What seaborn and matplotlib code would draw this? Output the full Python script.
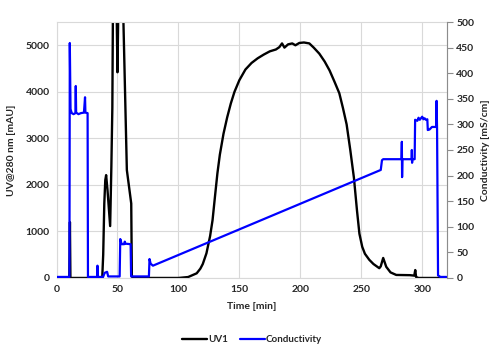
import seaborn as sns
import matplotlib.pyplot as plt
import pandas as pd

# UV trace (mAU)
uv_time = [0, 10.5, 11, 11.4, 37.5, 38.3, 39.2, 40, 40.7, 41.8, 44, 45, 45.8, 46.3,
           49.3, 50, 50.7, 54.5, 54.9, 57.7, 61.3, 61.8, 62.5, 100, 108, 115, 118,
           120, 123, 126, 128, 130, 132, 134, 137, 140, 143, 146, 150, 155, 160,
           165, 170, 175, 180, 182.8, 185, 187, 190, 193.4, 196, 199.2, 203, 207.4,
           211, 215.6, 220, 224, 228, 232, 235, 238, 241, 244, 246.5, 248.5, 250.8,
           253, 256.6, 260, 264.8, 266, 268, 270.5, 274, 278.7, 290, 293.5, 294.3,
           295, 297, 320]
uv_value = [0, 0, 1200, 0, 0, 500, 1600, 2100, 2210, 1900, 1115, 2400, 3660, 5800,
            5800, 4420, 5800, 5800, 5500, 2320, 1600, 50, 0, 0, 20, 100, 200,
            300, 530, 900, 1240, 1750, 2250, 2650, 3100, 3450, 3750, 4000, 4250, 4480, 4620,
            4720, 4800, 4870, 4910, 4960, 5040, 4950, 5020, 5040, 5000, 5050, 5060, 5040,
            4950, 4820, 4650, 4460, 4220, 3970, 3650, 3300, 2750, 2150, 1450, 950, 670,
            520, 390, 300, 210, 250, 430, 240, 120, 65, 60, 50, 170,
            20, 0, 0]

# Conductivity trace (mS/cm)
cond_time = [0, 10.6, 10.9, 11.5, 12.5, 14, 15.5, 15.8, 16.1, 18, 20, 22.5, 23.4, 23.7,
             25.5, 25.8, 33.3, 33.6, 33.9, 38.2, 39.5, 41.5, 42.4, 51.8, 52.3, 53, 53.5,
             55.5, 56, 56.5, 60.8, 61.2, 75.8, 76.3, 77.2, 79.1, 266, 267, 268, 283,
             283.3, 283.5, 283.8, 291.3, 291.5, 291.7, 292, 293.8, 294.2, 296, 297,
             298, 300, 301, 302, 303, 304.2, 304.6, 306, 308, 311.5, 311.8, 312.2,
             313, 315, 320]
cond_value = [2, 2, 459, 330, 322, 320, 322, 375, 323, 320, 322, 323, 353, 323,
              322, 2, 2, 24, 2, 2, 10, 12, 3, 3, 76, 70, 66,
              66, 71, 67, 66, 3, 3, 37, 28, 24, 211, 230, 232, 232,
              266, 197, 232, 232, 250, 225, 232, 232, 309, 307, 313,
              309, 315, 310, 312, 309, 310, 289, 290, 295, 295, 346, 290,
              5, 2, 2]

uv = pd.DataFrame({"time": uv_time, "value": uv_value})
cond = pd.DataFrame({"time": cond_time, "value": cond_value})

sns.set_style("whitegrid")
plt.rcParams['font.family'] = ['Lato', 'DejaVu Sans']
plt.rcParams['font.weight'] = 'bold'

fig = plt.figure(figsize=(4.94, 3.55), dpi=100)
ax = fig.add_axes([0.1144, 0.217, 0.7896, 0.721])
ax2 = ax.twinx()

sns.lineplot(data=uv, x="time", y="value", ax=ax, color="black", linewidth=1.7,
             estimator=None, sort=False, label="UV1", legend=False)
sns.lineplot(data=cond, x="time", y="value", ax=ax2, color="#0000ff", linewidth=1.6,
             estimator=None, sort=False, label="Conductivity", legend=False)

ax.set_xlim(0, 320)
ax.set_ylim(0, 5500)
ax2.set_ylim(0, 500)
ax.set_xticks(range(0, 301, 50))
ax.set_yticks(range(0, 5001, 1000))
ax2.set_yticks(range(0, 501, 50))

ax.grid(True, color="#d9d9d9", linewidth=0.8)
ax2.grid(False)
for s in ax.spines.values():
    s.set_color("#d9d9d9")
    s.set_linewidth(0.8)
for s in ax2.spines.values():
    s.set_visible(False)
ax2.spines["right"].set_visible(True)
ax2.spines["right"].set_color("#8c8c8c")
ax2.spines["right"].set_linewidth(0.8)

ax.tick_params(axis="both", length=0, labelsize=7.5, pad=5)
ax2.tick_params(axis="y", length=4, width=0.8, color="#8c8c8c", labelsize=7.5, pad=3)

ax.set_xlabel("Time [min]", fontsize=7.5, fontweight="bold", labelpad=6)
ax.set_ylabel("UV@280 nm [mAU]", fontsize=7.5, fontweight="bold", labelpad=7)
ax2.set_ylabel("Conductivity [mS/cm]", fontsize=7.5, fontweight="bold", labelpad=5)

h1, l1 = ax.get_legend_handles_labels()
h2, l2 = ax2.get_legend_handles_labels()
fig.legend(h1 + h2, l1 + l2, loc="center", bbox_to_anchor=(0.51, 0.043), ncol=2,
           frameon=False, fontsize=7, handlelength=2.6, handletextpad=0.1,
           columnspacing=1.2)

fig.savefig("out.png", dpi=100)
